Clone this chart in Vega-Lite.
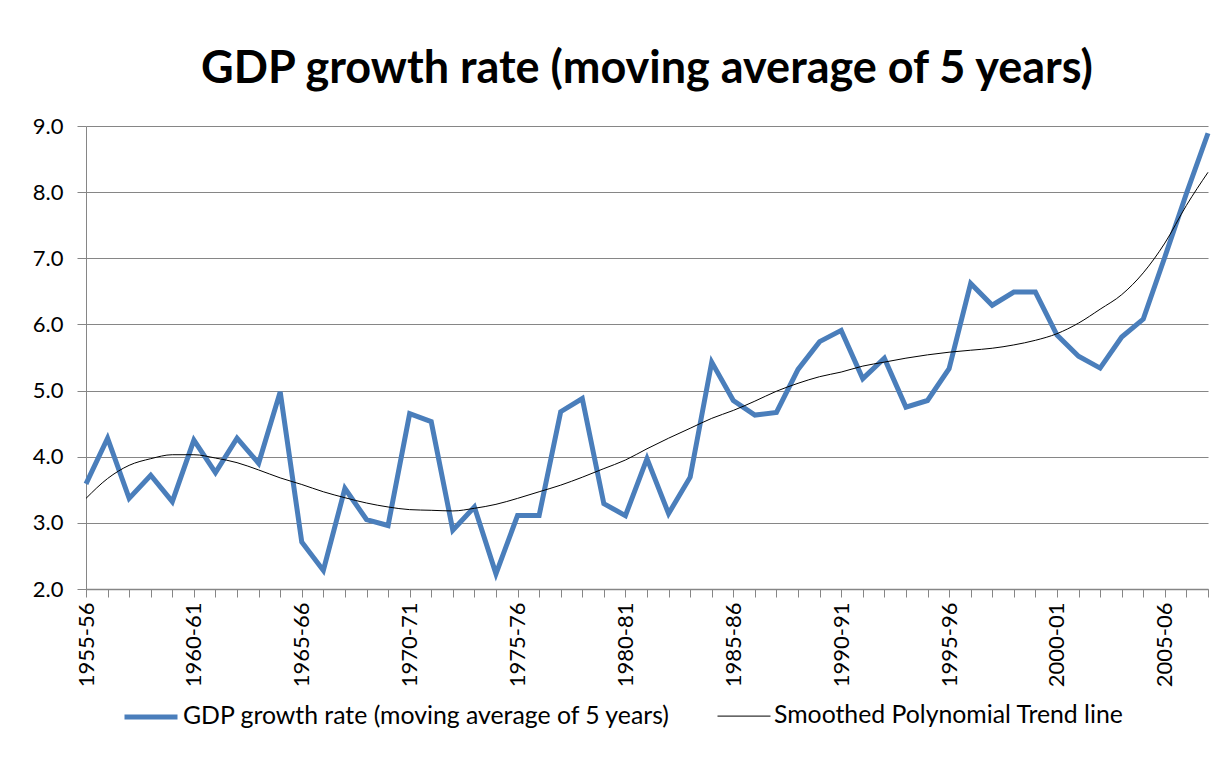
{
  "$schema": "https://vega.github.io/schema/vega-lite/v6.json",
  "width": 1122,
  "height": 463,
  "autosize": {"type": "none"},
  "padding": {"left": 86, "top": 126, "right": 17, "bottom": 184},
  "background": "white",
  "title": {
    "text": "GDP growth rate (moving average of 5 years)",
    "font": "Lato",
    "fontSize": 45,
    "fontWeight": "bold",
    "color": "black",
    "anchor": "middle",
    "frame": "group",
    "baseline": "alphabetic",
    "offset": -13
  },
  "data": {
    "values": [
      {"period": "1955-56", "gdp": 3.59, "trend": 3.37},
      {"period": "1956-57", "gdp": 4.28, "trend": 3.67},
      {"period": "1957-58", "gdp": 3.37, "trend": 3.87},
      {"period": "1958-59", "gdp": 3.72, "trend": 3.97},
      {"period": "1959-60", "gdp": 3.32, "trend": 4.03},
      {"period": "1960-61", "gdp": 4.25, "trend": 4.03},
      {"period": "1961-62", "gdp": 3.76, "trend": 3.98},
      {"period": "1962-63", "gdp": 4.28, "trend": 3.91},
      {"period": "1963-64", "gdp": 3.90, "trend": 3.80},
      {"period": "1964-65", "gdp": 4.98, "trend": 3.68},
      {"period": "1965-66", "gdp": 2.71, "trend": 3.58},
      {"period": "1966-67", "gdp": 2.28, "trend": 3.47},
      {"period": "1967-68", "gdp": 3.52, "trend": 3.38},
      {"period": "1968-69", "gdp": 3.05, "trend": 3.30},
      {"period": "1969-70", "gdp": 2.96, "trend": 3.24},
      {"period": "1970-71", "gdp": 4.65, "trend": 3.20},
      {"period": "1971-72", "gdp": 4.53, "trend": 3.19},
      {"period": "1972-73", "gdp": 2.89, "trend": 3.18},
      {"period": "1973-74", "gdp": 3.24, "trend": 3.22},
      {"period": "1974-75", "gdp": 2.23, "trend": 3.28},
      {"period": "1975-76", "gdp": 3.11, "trend": 3.37},
      {"period": "1976-77", "gdp": 3.11, "trend": 3.47},
      {"period": "1977-78", "gdp": 4.68, "trend": 3.57},
      {"period": "1978-79", "gdp": 4.88, "trend": 3.69},
      {"period": "1979-80", "gdp": 3.29, "trend": 3.82},
      {"period": "1980-81", "gdp": 3.11, "trend": 3.95},
      {"period": "1981-82", "gdp": 3.97, "trend": 4.12},
      {"period": "1982-83", "gdp": 3.14, "trend": 4.28},
      {"period": "1983-84", "gdp": 3.69, "trend": 4.43},
      {"period": "1984-85", "gdp": 5.43, "trend": 4.58},
      {"period": "1985-86", "gdp": 4.85, "trend": 4.70},
      {"period": "1986-87", "gdp": 4.63, "trend": 4.84},
      {"period": "1987-88", "gdp": 4.67, "trend": 4.99},
      {"period": "1988-89", "gdp": 5.32, "trend": 5.11},
      {"period": "1989-90", "gdp": 5.74, "trend": 5.21},
      {"period": "1990-91", "gdp": 5.91, "trend": 5.28},
      {"period": "1991-92", "gdp": 5.18, "trend": 5.37},
      {"period": "1992-93", "gdp": 5.49, "trend": 5.43},
      {"period": "1993-94", "gdp": 4.75, "trend": 5.49},
      {"period": "1994-95", "gdp": 4.85, "trend": 5.54},
      {"period": "1995-96", "gdp": 5.33, "trend": 5.58},
      {"period": "1996-97", "gdp": 6.62, "trend": 5.61},
      {"period": "1997-98", "gdp": 6.29, "trend": 5.64},
      {"period": "1998-99", "gdp": 6.49, "trend": 5.69},
      {"period": "1999-00", "gdp": 6.49, "trend": 5.76},
      {"period": "2000-01", "gdp": 5.84, "trend": 5.86},
      {"period": "2001-02", "gdp": 5.52, "trend": 6.02},
      {"period": "2002-03", "gdp": 5.34, "trend": 6.23},
      {"period": "2003-04", "gdp": 5.81, "trend": 6.45},
      {"period": "2004-05", "gdp": 6.08, "trend": 6.78},
      {"period": "2005-06", "gdp": 7.02, "trend": 7.23},
      {"period": "2006-07", "gdp": 7.98, "trend": 7.8},
      {"period": "2007-08", "gdp": 8.89, "trend": 8.3}
    ]
  },
  "transform": [
    {"fold": ["gdp", "trend"], "as": ["series", "value"]}
  ],
  "encoding": {
    "x": {
      "field": "period",
      "type": "ordinal",
      "sort": null,
      "scale": {"type": "point", "padding": 0},
      "axis": {
        "title": null,
        "labelAngle": -90,
        "labelFont": "Lato",
        "labelFontSize": 22,
        "labelColor": "black",
        "labelPadding": 5,
        "labelExpr": "parseInt(substring(datum.value, 0, 4)) % 5 === 0 ? datum.value : ''",
        "labelOverlap": false,
        "tickSize": 8,
        "tickColor": "#868686",
        "domainColor": "#868686",
        "domainWidth": 1.5,
        "grid": false
      }
    },
    "y": {
      "field": "value",
      "type": "quantitative",
      "scale": {"domain": [2, 9], "nice": false, "zero": false},
      "axis": {
        "title": null,
        "values": [2, 3, 4, 5, 6, 7, 8, 9],
        "format": ".1f",
        "labelFont": "Lato",
        "labelFontSize": 22,
        "labelColor": "black",
        "labelPadding": 14,
        "tickSize": 9,
        "tickColor": "#868686",
        "domainColor": "#868686",
        "grid": true,
        "gridColor": "#868686",
        "gridWidth": 1.2,
        "gridOpacity": 1
      }
    },
    "color": {
      "field": "series",
      "type": "nominal",
      "scale": {"domain": ["gdp", "trend"], "range": ["#4A7EBB", "#000000"]},
      "legend": {
        "title": null,
        "orient": "none",
        "direction": "horizontal",
        "legendX": 36,
        "legendY": 562,
        "symbolType": "stroke",
        "symbolSize": 2809,
        "labelFont": "Lato",
        "labelFontSize": 24.8,
        "labelColor": "black",
        "labelOffset": 3,
        "labelLimit": 1000,
        "columnPadding": 44,
        "labelExpr": "datum.value == 'gdp' ? 'GDP growth rate (moving average of 5 years)' : 'Smoothed Polynomial Trend line'"
      }
    },
    "strokeWidth": {
      "field": "series",
      "type": "nominal",
      "scale": {"domain": ["gdp", "trend"], "range": [5, 1]},
      "legend": {
        "title": null,
        "orient": "none",
        "direction": "horizontal",
        "legendX": 36,
        "legendY": 562,
        "symbolType": "stroke",
        "symbolSize": 2809,
        "labelFont": "Lato",
        "labelFontSize": 24.8,
        "labelColor": "black",
        "labelOffset": 3,
        "labelLimit": 1000,
        "columnPadding": 44,
        "labelExpr": "datum.value == 'gdp' ? 'GDP growth rate (moving average of 5 years)' : 'Smoothed Polynomial Trend line'"
      }
    }
  },
  "layer": [
    {
      "transform": [{"filter": "datum.series == 'gdp'"}],
      "mark": {"type": "line", "interpolate": "linear", "strokeJoin": "miter"}
    },
    {
      "transform": [{"filter": "datum.series == 'trend'"}],
      "mark": {"type": "line", "interpolate": "monotone"}
    }
  ],
  "config": {
    "view": {"stroke": null}
  }
}
